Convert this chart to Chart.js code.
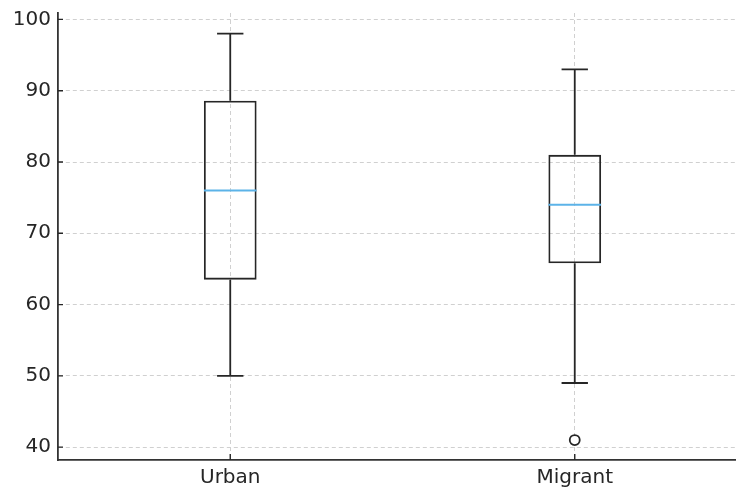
<!DOCTYPE html>
<html>
<head>
<meta charset="utf-8">
<script src="https://cdn.jsdelivr.net/npm/chart.js@4/dist/chart.umd.min.js"></script>
<style>
  html, body { margin: 0; padding: 0; background: #fff; overflow: hidden; }
  #wrap { width: 760px; height: 490px; }
</style>
</head>
<body>
<div id="wrap"><canvas id="box" width="760" height="490"></canvas></div>
<script>
// box plot summary per group
const groups = ["Urban", "Migrant"];
const whiskerLow = [50, 49];
const q1 = [63.5, 65.8];
const median = [76, 74];
const q3 = [88.6, 81];
const whiskerHigh = [98, 93];
const outliers = [null, 41];
const yTicks = [40, 50, 60, 70, 80, 90, 100];

const INK = "#262626";

// whiskers, caps, medians and inward tick marks, all placed through the chart's scales
const boxExtras = {
  id: "boxExtras",
  afterDatasetsDraw(chart) {
    const ctx = chart.ctx;
    const x = chart.scales.x, y = chart.scales.y;
    const meta = chart.getDatasetMeta(0);
    ctx.save();
    groups.forEach((g, i) => {
      const cx = x.getPixelForValue(i);
      const half = meta.data[i].width / 2;
      const cap = half / 2;
      ctx.strokeStyle = INK;
      ctx.lineWidth = 1.8;
      ctx.beginPath();
      ctx.moveTo(cx, y.getPixelForValue(q3[i]));
      ctx.lineTo(cx, y.getPixelForValue(whiskerHigh[i]));
      ctx.moveTo(cx - cap, y.getPixelForValue(whiskerHigh[i]));
      ctx.lineTo(cx + cap, y.getPixelForValue(whiskerHigh[i]));
      ctx.moveTo(cx, y.getPixelForValue(q1[i]));
      ctx.lineTo(cx, y.getPixelForValue(whiskerLow[i]));
      ctx.moveTo(cx - cap, y.getPixelForValue(whiskerLow[i]));
      ctx.lineTo(cx + cap, y.getPixelForValue(whiskerLow[i]));
      ctx.stroke();
      ctx.strokeStyle = "#5cb3e8";
      ctx.lineWidth = 2;
      ctx.beginPath();
      ctx.moveTo(cx - half, y.getPixelForValue(median[i]));
      ctx.lineTo(cx + half, y.getPixelForValue(median[i]));
      ctx.stroke();
    });
    // inward tick marks
    const area = chart.chartArea;
    ctx.strokeStyle = INK;
    ctx.lineWidth = 1.4;
    ctx.beginPath();
    yTicks.forEach(v => {
      const py = y.getPixelForValue(v);
      ctx.moveTo(area.left, py);
      ctx.lineTo(area.left + 5, py);
    });
    groups.forEach((g, i) => {
      const px = x.getPixelForValue(i);
      ctx.moveTo(px, area.bottom);
      ctx.lineTo(px, area.bottom - 6);
    });
    ctx.stroke();
    ctx.restore();
  }
};

new Chart(document.getElementById("box"), {
  type: "bar",
  data: {
    labels: groups,
    datasets: [
      {
        label: "box",
        data: q1.map((v, i) => [v, q3[i]]),
        backgroundColor: "rgba(255,255,255,0)",
        borderColor: INK,
        borderWidth: 1.8,
        borderSkipped: false,
        barPercentage: 0.153,
        categoryPercentage: 1
      },
      {
        type: "line",
        label: "outliers",
        data: outliers,
        showLine: false,
        pointStyle: "circle",
        pointRadius: 5,
        pointBorderWidth: 1.8,
        pointBorderColor: INK,
        pointBackgroundColor: "#fff"
      }
    ]
  },
  options: {
    responsive: false,
    animation: false,
    layout: { padding: { top: 13, right: 13, left: 0, bottom: 0 } },
    plugins: { legend: { display: false }, tooltip: { enabled: false } },
    scales: {
      x: {
        offset: true,
        afterFit: s => { s.height = 30; s.paddingLeft = 0; s.paddingRight = 0; },
        grid: { offset: false, color: "#d0d0d0", lineWidth: 1, drawTicks: false },
        border: { display: true, color: "#333", width: 1.8, dash: [4, 3] },
        ticks: { color: "#262626", padding: 6, font: { family: "DejaVu Sans", size: 20 } }
      },
      y: {
        min: 38.2,
        max: 100.9,
        afterFit: s => { s.width = 58; s.paddingTop = 0; s.paddingBottom = 0; },
        afterBuildTicks: s => { s.ticks = yTicks.map(v => ({ value: v })); },
        grid: { color: "#d0d0d0", lineWidth: 1, drawTicks: false },
        border: { display: true, color: "#333", width: 1.8, dash: [4, 3] },
        ticks: { color: "#262626", padding: 7, font: { family: "DejaVu Sans", size: 20 } }
      }
    }
  },
  plugins: [boxExtras]
});
</script>
</body>
</html>
